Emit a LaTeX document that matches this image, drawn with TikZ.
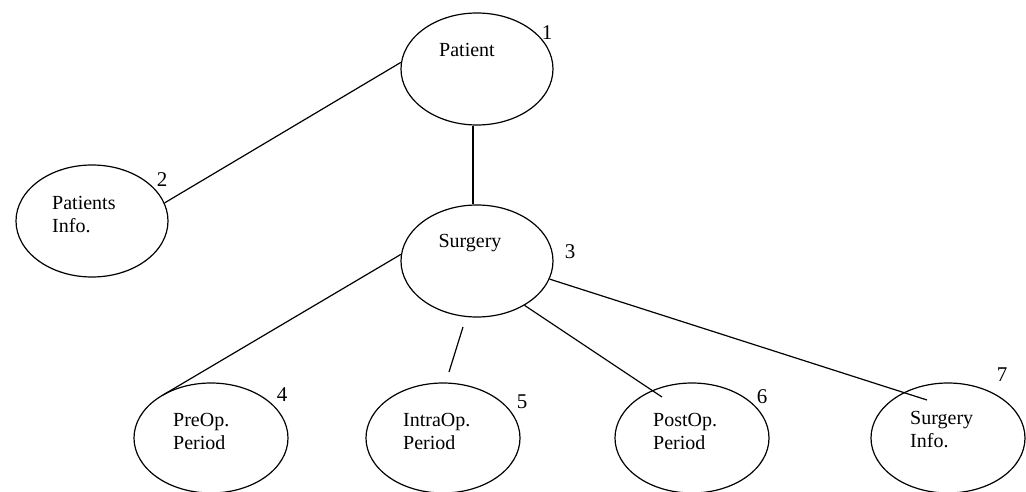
\documentclass[tikz,border=0pt]{standalone}
\usepackage{fontspec}
\setmainfont{Liberation Serif}
\usetikzlibrary{shapes.geometric}
\begin{document}
\begin{tikzpicture}[x=1pt,y=-1pt,
  bubble/.style={draw,ellipse,line width=1.2pt,inner sep=0pt,
    minimum width=152pt,minimum height=112pt},
  lowbubble/.style={bubble,minimum width=154pt,minimum height=110pt},
  txt/.style={inner sep=0pt,font=\fontsize{20}{23}\selectfont,align=left},
  num/.style={inner sep=0pt,font=\fontsize{21}{23}\selectfont},
  link/.style={line width=1.2pt}]
\useasboundingbox[fill=white] (0,0) rectangle (1026,492);

% entities
\node[bubble]    (patient)  at (477,69)  {};
\node[bubble]    (pinfo)    at (92,221)  {};
\node[bubble]    (surgery)  at (477,261) {};
\node[lowbubble] (preop)    at (211,438) {};
\node[lowbubble] (intraop)  at (443,438) {};
\node[lowbubble] (postop)   at (692,438) {};
\node[lowbubble] (sinfo)    at (948,438) {};

% entity names
\node[txt] (tpatient) at (467,50)  {Patient};
\node[txt,anchor=west] (tpinfo)   at (52,215)  {Patients\\Info.};
\node[txt] (tsurgery) at (470,243) {Surgery};
\node[txt,anchor=west] (tpreop)   at (173,431) {PreOp.\\Period};
\node[txt,anchor=west] (tintraop) at (403,431) {IntraOp.\\Period};
\node[txt,anchor=west] (tpostop)  at (653,431) {PostOp.\\Period};
\node[txt,anchor=west] (tsinfo)   at (910,430) {Surgery\\Info.};

% numbers
\node[num] (n1) at (547,33)  {1};
\node[num] (n2) at (162,180) {2};
\node[num] (n3) at (570,252) {3};
\node[num] (n4) at (282,395) {4};
\node[num] (n5) at (522,402) {5};
\node[num] (n6) at (762,397) {6};
\node[num] (n7) at (1002,375) {7};

% connector ends
\coordinate (preopend)  at (163,395);
\coordinate (postopend) at (662,397);
\coordinate (sinfoend)  at (927,400);
\coordinate (intraa)    at (463,327);
\coordinate (intrab)    at (449,372);

% connectors
\draw[link] (patient.175.5) -- (pinfo.14.6);
\draw[link] (patient.266) -- (surgery.94);
\draw[link] (surgery.175.5) -- (preopend);
\draw[link] (intraa) -- (intrab);
\draw[link] (surgery.317.5) -- (postopend);
\draw[link] (surgery.346) -- (sinfoend);
\end{tikzpicture}
\end{document}
